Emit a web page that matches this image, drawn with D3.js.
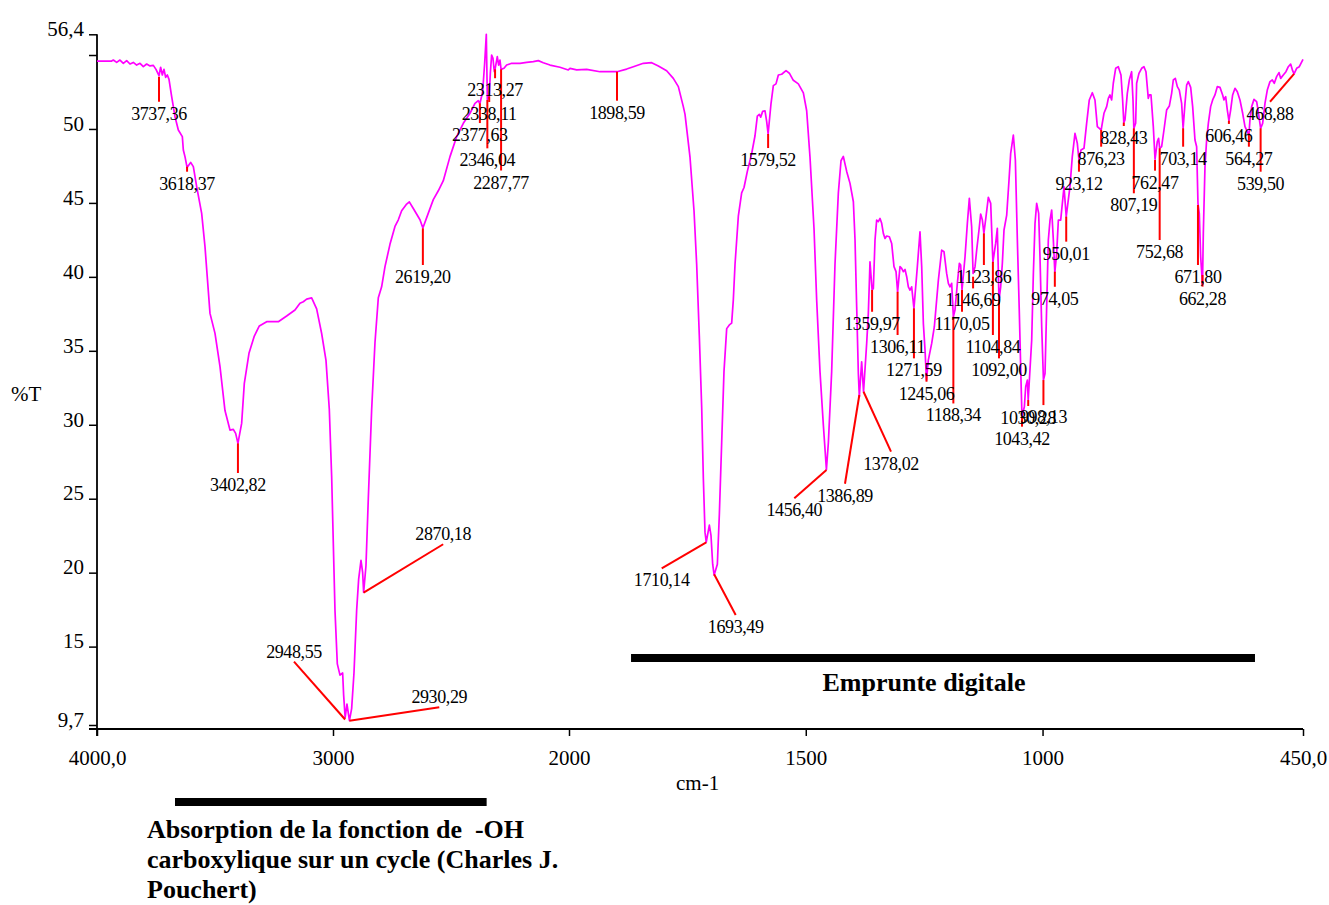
<!DOCTYPE html>
<html><head><meta charset="utf-8">
<script src="https://cdn.jsdelivr.net/npm/d3@7"></script>
<style>body{margin:0;background:#fff}svg{display:block}</style>
</head><body><svg id="c" width="1329" height="905"></svg>
<script>
// ---- spectrum data (cm-1, %T) ----
const wavenumbers = [4000,3937.9,3930.8,3916.7,3902.6,3888.4,3874.3,3860.2,3846.1,3832.0,3817.8,3803.7,3789.6,3775.5,3761.3,3750.0,3737.36,3730.3,3723.2,3716.1,3709.1,3702.0,3694.9,3683.6,3669.5,3655.4,3638.4,3634.2,3627.2,3618.37,3603.1,3591.8,3577.7,3556.5,3542.4,3521.2,3500.0,3478.8,3457.7,3436.5,3422.4,3412.5,3402.82,3387.1,3375.8,3356.0,3333.4,3312.2,3281.1,3231.7,3196.4,3161.1,3139.9,3125.8,3111.7,3090.5,3069.3,3048.1,3029.7,3015.6,3005.7,2998.7,2991.6,2981.7,2970.4,2959.1,2954.9,2948.55,2940.8,2930.29,2921.0,2911.1,2899.8,2891.3,2881.4,2874.4,2870.18,2860.3,2850.4,2836.2,2822.1,2808.0,2793.9,2779.7,2758.6,2737.4,2723.2,2709.1,2687.9,2676.6,2659.7,2631.4,2619.20,2596.1,2575.0,2553.8,2532.6,2504.3,2476.1,2447.8,2419.6,2398.4,2384.3,2377.63,2365.9,2357.4,2350.4,2346.04,2338.11,2333.4,2327.8,2322.1,2316.5,2313.27,2303.8,2298.1,2292.5,2287.77,2275.5,2264.2,2243.0,2207.7,2179.5,2151.2,2130.0,2108.9,2080.6,2038.3,2003.0,1997.9,1983.8,1962.7,1934.5,1898.59,1878.2,1864.1,1843.0,1825.4,1811.3,1793.8,1779.7,1769.1,1758.6,1755.0,1744.5,1736.0,1730.4,1724.8,1719.8,1716.3,1712.8,1710.14,1703.6,1700.1,1696.6,1693.49,1686.7,1682.5,1677.6,1672.7,1667.0,1661.4,1656.5,1653.0,1649.4,1642.4,1635.4,1630.4,1623.4,1614.2,1607.2,1602.3,1598.1,1595.2,1591.0,1586.1,1582.6,1579.52,1573.4,1568.5,1562.9,1557.9,1550.9,1541.7,1534.7,1526.3,1515.7,1505.1,1498.1,1491.1,1482.6,1477.0,1470.0,1462.9,1456.40,1452.3,1445.3,1438.3,1431.2,1425.6,1420.7,1413.6,1406.6,1399.5,1396.0,1392.5,1389.0,1386.89,1382.0,1378.02,1371.4,1367.9,1365.8,1364.4,1359.97,1357.3,1353.8,1350.3,1346.8,1343.2,1339.7,1336.2,1332.7,1329.2,1323.5,1318.6,1313.7,1309.4,1306.11,1301.0,1297.5,1294.0,1290.4,1286.9,1283.4,1279.9,1276.4,1271.59,1264.4,1258.8,1255.2,1251.7,1248.2,1245.06,1241.2,1234.1,1228.5,1220.0,1213.0,1208.1,1202.5,1198.9,1195.4,1191.9,1188.34,1184.9,1179.9,1175.7,1172.9,1170.05,1163.7,1158.8,1154.6,1149.7,1146.69,1142.6,1139.1,1134.2,1130.7,1127.1,1123.86,1119.4,1114.5,1109.5,1104.84,1099.0,1095.5,1092.00,1088.4,1084.9,1081.4,1075.7,1070.8,1067.3,1061.7,1057.4,1053.2,1049.0,1045.5,1043.42,1038.4,1035.6,1032.1,1030.28,1022.9,1019.4,1015.9,1012.4,1008.2,1005.4,1001.8,998.13,994.8,991.3,987.8,984.2,980.7,977.2,974.05,970.2,966.6,961.7,957.5,954.7,950.01,942.1,937.2,931.5,926.6,923.12,918.8,912.5,906.9,901.3,894.9,889.3,884.3,880.1,876.23,870.3,864.6,861.1,857.6,854.1,850.6,845.6,840.0,834.4,830.9,828.43,825.9,821.0,816.8,811.9,809.0,807.19,803.4,801.3,796.4,790.7,785.8,781.6,776.7,774.6,771.0,766.1,762.47,757.7,754.9,752.68,748.5,743.6,738.0,732.3,727.4,723.9,719.6,715.4,711.2,706.3,703.14,699.2,695.7,692.2,687.2,683.0,678.1,674.6,671.80,669.0,666.1,662.28,660.5,657.0,653.5,649.9,645.0,640.8,635.9,631.0,625.3,619.7,616.9,613.3,609.8,606.46,602.8,598.6,593.6,588.7,583.1,577.4,572.5,564.27,562.0,558.4,553.5,547.9,544.4,539.50,535.2,530.3,525.4,519.7,514.8,510.6,505.7,500.7,497.2,491.6,486.0,481.0,476.1,471.9,468.88,463.4,457.8,454.3,450];
const transmittance = [54.59,54.59,54.66,54.50,54.66,54.44,54.62,54.39,54.50,54.32,54.44,54.21,54.39,54.26,54.30,54.03,53.6,54.17,53.65,54.03,53.49,53.65,53.35,52.18,50.83,49.93,49.48,48.58,48.13,47.4,47.74,47.45,46.10,44.29,42.04,37.53,36.18,33.93,30.96,29.64,29.69,29.42,28.74,30.09,32.80,34.83,36.00,36.68,36.97,36.97,37.35,37.76,38.22,38.32,38.49,38.58,37.83,36.17,34.35,31.03,26.51,21.98,17.45,13.83,13.07,13.22,11.72,10.2,11.11,10.0,10.81,13.22,17.45,19.56,20.83,20.02,18.66,20.47,25.00,31.03,35.56,38.58,39.33,40.69,42.20,43.41,43.86,44.47,44.92,45.07,44.62,43.86,43.30,44.31,45.22,45.82,46.50,48.13,49.48,50.38,51.06,51.73,51.91,51.7,52.52,54.44,56.4,52.0,52.2,53.76,55.0,54.77,53.87,54.05,54.89,54.32,54.66,54.03,54.10,54.32,54.44,54.44,54.50,54.55,54.62,54.48,54.32,54.17,53.99,54.10,53.99,54.03,53.87,53.87,54.05,54.21,54.44,54.48,54.26,53.94,53.42,52.86,51.51,50.99,48.10,44.47,40.85,36.02,31.19,26.36,22.74,22.06,23.22,22.50,20.57,19.84,20.57,23.95,28.78,33.61,36.50,36.75,36.87,38.44,40.85,44.11,45.68,46.04,47.13,48.34,49.54,50.87,50.99,50.80,51.19,51.23,50.51,49.67,51.72,52.93,53.05,53.65,53.70,53.94,53.77,53.29,53.05,52.44,51.23,48.10,43.27,38.44,33.61,29.98,26.97,28.78,33.61,40.85,45.68,47.85,48.14,47.13,46.32,45.08,42.49,37.98,33.47,31.90,34.26,32.23,35.50,37.53,39.56,41.02,39.11,39.22,42.49,43.84,43.73,43.95,43.62,42.94,42.60,42.76,42.71,42.26,40.69,40.35,38.99,40.69,40.57,40.35,40.50,40.01,39.33,39.11,39.33,37.87,40.69,43.05,40.69,36.85,35.05,33.02,34.37,35.50,36.63,39.78,41.81,41.70,40.23,39.56,39.33,39.56,37.30,37.76,39.56,40.91,40.80,39.11,41.36,43.62,45.31,43.39,40.23,40.69,41.81,43.17,44.25,43.84,42.94,44.07,45.37,44.97,41.0,42.26,43.28,38.43,39.33,40.91,43.17,44.18,46.55,48.35,49.59,47.90,42.49,37.53,33.02,30.54,31.22,32.57,33.02,31.67,35.73,40.23,43.62,44.97,44.29,41.36,36.63,33.02,33.47,37.98,42.49,43.84,44.52,42.49,40.30,41.59,43.84,43.84,45.19,46.09,44.07,46.10,48.13,49.70,49.03,47.90,48.58,48.69,50.38,51.96,52.45,51.96,50.16,50.04,49.93,51.06,51.51,52.07,52.30,51.96,53.09,54.10,54.21,53.65,51.96,50.43,50.61,52.41,53.31,53.87,51.96,50.04,50.38,53.09,53.76,54.10,54.21,53.87,52.07,52.30,52.30,50.16,47.95,49.14,49.37,48.69,48.80,49.93,51.28,51.55,52.41,53.31,53.42,52.86,52.63,51.73,50.04,51.73,52.97,53.20,52.81,51.51,49.25,48.80,44.97,44.30,41.37,39.45,42.94,47.45,49.25,50.38,51.51,51.96,52.30,52.86,52.81,52.30,51.96,52.18,51.28,50.56,51.28,52.30,52.75,52.52,51.96,51.06,50.16,49.59,50.61,51.51,52.00,51.85,51.17,50.04,50.38,51.73,52.63,53.20,53.31,53.09,53.54,53.81,53.42,53.65,53.87,54.21,54.39,53.94,53.72,54.10,54.21,54.44,54.71];

// ---- peak annotations ----
const peakText  = ["3737,36","3618,37","3402,82","2948,55","2930,29","2870,18","2619,20","2377,63","2346,04","2338,11","2313,27","2287,77","1898,59","1579,52","1710,14","1693,49","1456,40","1386,89","1378,02","1359,97","1306,11","1271,59","1245,06","1188,34","1170,05","1146,69","1123,86","1104,84","1092,00","1043,42","1030,28","998,13","974,05","950,01","923,12","876,23","828,43","807,19","762,47","752,68","703,14","671,80","662,28","606,46","564,27","539,50","468,88"];
const peakWn    = [3737.36,3618.37,3402.82,2948.55,2930.29,2870.18,2619.20,2377.63,2346.04,2338.11,2313.27,2287.77,1898.59,1579.52,1710.14,1693.49,1456.40,1386.89,1378.02,1359.97,1306.11,1271.59,1245.06,1188.34,1170.05,1146.69,1123.86,1104.84,1092.00,1043.42,1030.28,998.13,974.05,950.01,923.12,876.23,828.43,807.19,762.47,752.68,703.14,671.80,662.28,606.46,564.27,539.50,468.88];
const peakT     = [53.53,47.45,28.74,10.07,9.99,18.65,43.28,51.73,51.96,52.2,54.03,54.03,53.87,49.66,22.05,19.89,26.94,32.01,32.23,39.11,38.99,37.87,33.47,37.30,39.11,40.01,42.94,41.02,38.43,30.54,31.67,33.02,40.35,44.07,47.90,49.93,50.43,50.04,47.90,48.69,50.04,44.86,40.13,50.56,49.70,50.04,53.72];
const leaderWn  = [3737.36,3618.37,3402.82,3165.3,2549.7,2533.1,2619.20,2377.63,2346.04,2338.11,2313.27,2287.77,1898.59,1579.52,1804.2,1648,1524.2,1417.2,1320,1359.97,1306.11,1271.59,1245.06,1188.34,1170.05,1146.69,1123.86,1104.84,1092.00,1043.42,1030.28,998.13,974.05,950.01,923.12,876.23,828.43,807.19,762.47,752.68,703.14,671.80,662.28,606.46,564.27,539.50,519.7];
const leaderT   = [51.84,47.11,26.74,13.98,10.9,21.92,40.8,50.40,48.69,51.82,53.43,47.19,51.91,48.71,20.29,17.14,25.03,26.01,28.18,37.64,36.07,34.49,32.91,31.44,37.64,39.22,40.80,36.07,34.49,29.87,31.27,31.33,39.33,42.38,47.11,48.80,50.20,45.65,47.18,42.49,48.80,40.80,39.34,50.34,48.80,47.11,51.84];
const labelAbove = ["2948,55","2930,29","2870,18"];

// ---- axes ----
const xTickValues = [4000,3000,2000,1500,1000,450];
const xTickLabels = ["4000,0","3000","2000","1500","1000","450,0"];
const yTickValues = [56.4,55,50,45,40,35,30,25,20,15,9.7];
const yTickLabels = ["56,4","","50","45","40","35","30","25","20","15","9,7"];

// ---- annotation bands (cm-1) ----
const bandOH = [3669.5, 2349];
const bandFingerprint = [1869, 551.4];

const svg = d3.select("#c");
const serif = "'Liberation Serif','Times New Roman',Times,serif";

const x = d3.scaleLinear().domain([4000, 2000, 450]).range([97, 569, 1303]);
const y = d3.scaleLinear().domain([9.7, 56.4]).range([725, 34.3]);
const axisY = 729;

// y axis
const gy = svg.append("g").attr("transform", "translate(97,0)")
  .call(d3.axisLeft(y).tickValues(yTickValues).tickFormat((d, i) => yTickLabels[i]).tickSize(8).tickSizeOuter(0));
gy.select(".domain").remove();
gy.selectAll(".tick line").attr("stroke", "#000").attr("stroke-width", 1.5);
gy.selectAll(".tick text").attr("x", -13).attr("dy", "0.06em")
  .attr("font-family", serif).attr("font-size", 21).attr("fill", "#000");
svg.append("line").attr("x1", 97).attr("x2", 97).attr("y1", y(56.4)).attr("y2", axisY + 7)
  .attr("stroke", "#000").attr("stroke-width", 1.8);

// x axis
const gx = svg.append("g").attr("transform", `translate(0,${axisY})`)
  .call(d3.axisBottom(x).tickValues(xTickValues).tickFormat((d, i) => xTickLabels[i]).tickSize(7).tickSizeOuter(0));
gx.select(".domain").remove();
gx.selectAll(".tick line").attr("stroke", "#000").attr("stroke-width", 1.5);
gx.selectAll(".tick text").attr("y", 36).attr("dy", 0)
  .attr("font-family", serif).attr("font-size", 21).attr("fill", "#000");
svg.append("line").attr("x1", 89).attr("x2", x(450)).attr("y1", axisY).attr("y2", axisY)
  .attr("stroke", "#000").attr("stroke-width", 1.8);

// axis titles
svg.append("text").attr("x", 11).attr("y", 401).text("%T")
  .attr("font-family", serif).attr("font-size", 21).attr("fill", "#000");
svg.append("text").attr("x", 676).attr("y", 790).text("cm-1")
  .attr("font-family", serif).attr("font-size", 21).attr("fill", "#000");

// spectrum
const pts = wavenumbers.map((w, i) => [w, transmittance[i]]);
svg.append("path").datum(pts)
  .attr("d", d3.line().x(d => x(d[0])).y(d => y(d[1])))
  .attr("fill", "none").attr("stroke", "#FF00FF").attr("stroke-width", 1.7)
  .attr("stroke-linejoin", "round");

// peak markers and labels
const peaks = peakText.map((t, i) => ({t, w: peakWn[i], v: peakT[i], w2: leaderWn[i], v2: leaderT[i], above: labelAbove.includes(t)}));
const gp = svg.append("g");
gp.selectAll("line").data(peaks).join("line")
  .attr("x1", d => x(d.w)).attr("y1", d => y(d.v))
  .attr("x2", d => x(d.w2)).attr("y2", d => y(d.v2))
  .attr("stroke", "#FF0000").attr("stroke-width", 2);
gp.selectAll("text").data(peaks).join("text")
  .attr("x", d => x(d.w2)).attr("y", d => y(d.v2) + (d.above ? -4 : 18))
  .attr("text-anchor", "middle").text(d => d.t)
  .attr("font-family", serif).attr("font-size", 18).attr("letter-spacing", "-0.4px").attr("fill", "#000");

// annotation bands
svg.append("rect").attr("x", x(bandFingerprint[0])).attr("width", x(bandFingerprint[1]) - x(bandFingerprint[0]))
  .attr("y", 654).attr("height", 8).attr("fill", "#000");
svg.append("text").attr("x", 924).attr("y", 691).attr("text-anchor", "middle").text("Emprunte digitale")
  .attr("font-family", serif).attr("font-weight", "bold").attr("font-size", 26).attr("fill", "#000");
svg.append("rect").attr("x", x(bandOH[0])).attr("width", x(bandOH[1]) - x(bandOH[0]))
  .attr("y", 798).attr("height", 8).attr("fill", "#000");
const ohLines = ["Absorption de la fonction de  -OH", "carboxylique sur un cycle (Charles J.", "Pouchert)"];
svg.append("g").selectAll("text").data(ohLines).join("text")
  .attr("x", 147).attr("y", (d, i) => 838 + i * 30).text(d => d)
  .style("white-space", "pre")
  .attr("font-family", serif).attr("font-weight", "bold").attr("font-size", 26).attr("fill", "#000");
</script>
</body></html>
